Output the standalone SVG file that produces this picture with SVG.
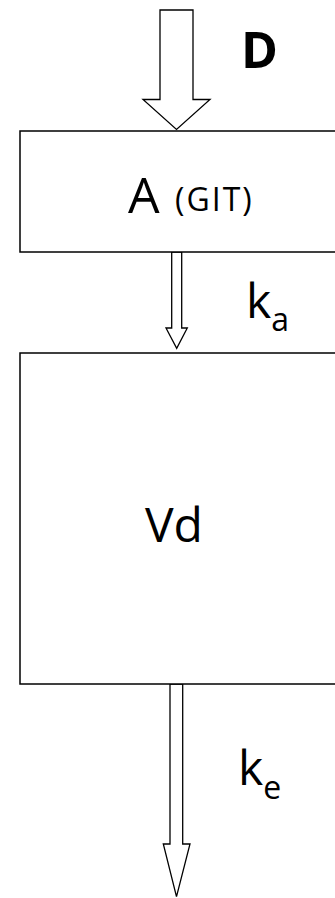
<svg xmlns="http://www.w3.org/2000/svg" width="335" height="898" viewBox="0 0 335 898">
<style>
.box{fill:#fff;stroke:#000;stroke-width:1.5}
.arr{fill:#fff;stroke:#000;stroke-width:1.3;stroke-linejoin:miter}
.t{font-family:"Open Sans","Noto Sans",sans-serif;fill:#000}
</style>
<rect width="335" height="898" fill="#fff"/>
<g id="connectors">
<polygon class="arr" points="160,10 193,10 193,99.5 210,99.5 176.5,129.5 143,99.5 160,99.5"/>
<polygon class="arr" points="171.7,252 181.7,252 181.7,328 187.3,328 176.7,348.3 166,328 171.7,328"/>
<polygon class="arr" points="170,684 182.7,684 182.7,844 190,844 176.5,896.7 163.3,844 170,844"/>
<text class="t" x="241" y="68" font-size="50" font-weight="bold">D</text>
<text class="t" x="246" y="318" font-size="48">k<tspan font-size="32" dy="12.7">a</tspan></text>
<text class="t" x="238" y="785" font-size="48">k<tspan font-size="32" dy="14">e</tspan></text>
</g>
<g id="A">
<rect class="box" x="20" y="131" width="320" height="121"/>
<text class="t" x="128" y="212.5" font-size="50">A</text>
<text class="t" x="175" y="211" font-size="32" letter-spacing="2">(GIT)</text>
</g>
<g id="Vd">
<rect class="box" x="20" y="353" width="320" height="331"/>
<text class="t" x="174" y="542" font-size="48" text-anchor="middle">Vd</text>
</g>
</svg>
